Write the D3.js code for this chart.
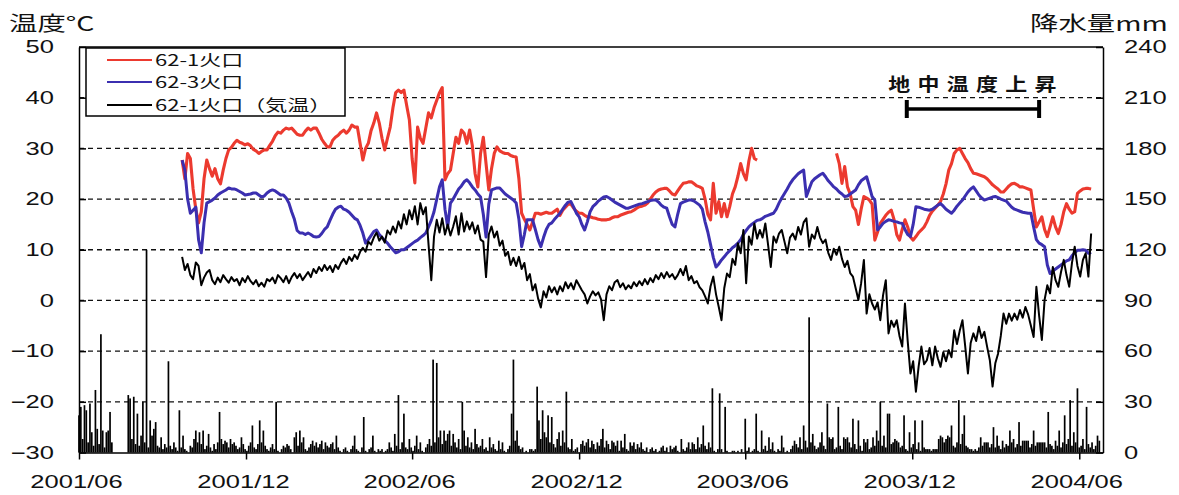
<!DOCTYPE html>
<html>
<head>
<meta charset="utf-8">
<script src="https://cdn.jsdelivr.net/npm/d3@7"></script>
<style>
  html, body { margin: 0; padding: 0; background: #fff; }
  svg { display: block; }
  text { font-family: "Noto Sans CJK JP", "Noto Sans", sans-serif; fill: #111; }
</style>
</head>
<body>
<svg id="chart" width="1179" height="495"></svg>
<script>
// ---- Data -------------------------------------------------------------
// Temperature series: one reading every 3 days from tempStart (°C)
const tempStart = "2001-09-22";
const tempStepDays = 3;

// 62-1 crater ground temperature (null = no record)
const crater621 = [
  27.7,24.0,29.0,28.0,22.0,18.0,15.3,17.5,24.0,27.7,
  26.0,24.5,26.0,24.0,23.0,25.7,28.0,29.7,30.2,31.0,
  31.6,31.2,31.0,30.7,30.9,30.5,29.8,29.5,29.0,29.4,
  29.7,29.7,30.6,31.4,32.5,33.2,33.0,33.6,34.0,33.8,
  34.0,33.4,32.8,32.6,32.6,33.4,34.0,33.6,34.0,34.0,
  33.0,31.8,31.0,30.3,30.3,31.6,32.2,32.6,33.2,33.6,
  33.0,33.6,34.6,34.2,34.2,31.0,27.7,30.0,31.0,33.5,
  35.0,37.0,35.0,32.0,29.7,32.0,34.2,38.0,41.0,41.5,
  41.0,41.5,38.5,35.6,28.0,23.2,34.2,32.0,31.0,34.0,
  37.0,36.0,38.0,39.5,41.0,42.0,23.8,25.0,25.7,29.0,
  32.2,31.0,33.6,33.0,31.0,33.6,30.5,25.0,22.4,29.0,
  32.2,27.0,21.8,26.0,29.0,30.3,29.5,29.2,29.0,29.0,
  28.6,28.4,28.3,24.0,17.2,16.0,15.0,13.9,15.5,17.2,
  17.2,17.0,17.2,17.4,17.2,17.2,17.6,18.0,16.8,17.8,
  18.4,19.0,19.0,18.2,17.6,17.2,17.2,16.8,16.5,16.5,
  16.3,16.2,16.0,15.9,15.9,15.9,16.0,16.3,16.5,16.5,
  16.8,17.0,17.2,17.4,17.5,17.8,18.2,18.5,18.6,18.8,
  19.2,20.0,20.8,21.4,21.8,22.0,22.1,22.1,21.6,21.0,
  20.8,21.6,22.4,23.1,23.2,23.4,23.4,23.0,22.6,22.4,
  22.1,20.0,17.0,15.9,23.1,17.2,19.5,16.5,19.1,16.5,
  18.5,21.0,22.4,24.5,27.0,25.0,23.8,27.5,30.0,28.0,
  27.7,null,null,null,null,null,null,null,null,null,
  null,null,null,null,null,null,null,null,null,null,
  null,null,null,null,null,null,null,null,null,29.0,
  27.0,23.1,26.4,22.4,21.0,18.5,17.8,15.0,18.0,20.5,
  20.2,19.8,19.0,11.9,13.5,15.2,16.0,16.8,17.4,17.8,
  16.0,13.0,11.9,14.0,15.9,14.5,12.5,11.9,12.6,13.4,
  13.9,14.5,15.5,16.8,17.6,18.2,18.8,19.5,21.0,23.0,
  25.7,27.0,29.0,29.7,30.0,29.0,28.0,27.2,26.0,25.1,
  25.0,24.8,24.6,24.4,24.0,23.4,22.8,22.4,22.0,21.4,
  21.4,22.0,22.6,23.0,23.1,22.8,22.4,22.4,22.2,22.0,
  21.8,18.0,14.5,15.5,16.5,14.0,12.6,14.5,16.5,14.5,
  13.2,15.0,17.5,19.1,18.0,17.2,17.5,21.1,21.6,22.0,
  22.1,22.1,22.0
];

// 62-3 crater ground temperature
const crater623 = [
  27.7,25.7,20.0,17.2,17.8,18.4,12.0,9.4,15.3,19.2,
  19.5,19.8,20.2,20.8,21.2,21.5,21.8,22.2,22.0,22.0,
  21.8,21.5,21.2,20.8,20.9,21.0,21.2,21.2,20.8,20.4,
  20.6,21.2,21.6,21.8,21.6,21.2,20.8,20.8,20.2,19.2,
  17.5,16.0,13.8,13.3,13.3,13.0,13.3,13.0,12.6,12.5,
  12.6,13.2,14.0,14.5,15.8,17.0,18.0,18.4,18.6,18.0,
  17.8,17.4,16.8,16.2,15.9,14.8,13.3,11.3,12.0,12.8,
  13.6,13.9,13.0,12.4,11.8,11.3,10.6,10.0,9.4,9.6,
  10.0,10.0,10.4,10.8,11.2,11.6,11.9,12.4,12.8,13.3,
  14.5,15.8,17.5,20.0,22.4,23.8,18.0,14.5,19.2,20.0,
  21.0,22.0,22.6,23.4,23.8,23.2,22.4,21.8,21.0,20.4,
  17.0,12.5,19.0,21.8,22.0,22.2,22.2,21.6,21.0,20.6,
  20.2,19.8,19.2,16.0,10.6,13.0,15.9,15.9,15.9,14.0,
  12.0,10.6,12.4,14.0,15.0,15.3,16.0,16.6,17.2,18.0,
  18.8,19.4,19.5,18.4,17.2,16.5,15.0,13.9,15.5,17.5,
  18.5,19.0,19.6,20.0,20.4,20.5,20.2,19.8,19.4,19.1,
  18.8,18.5,18.2,18.2,18.4,18.6,18.8,19.0,19.1,19.3,
  19.5,19.7,19.8,19.8,19.4,18.8,18.4,18.2,16.5,15.0,
  14.5,17.0,19.1,19.4,19.6,19.8,19.8,19.6,19.2,18.8,
  18.0,15.5,13.5,11.0,8.5,6.6,7.2,8.0,8.6,9.3,
  9.8,10.4,10.8,11.3,12.0,13.0,13.8,14.5,15.0,15.4,
  15.8,15.9,16.2,16.6,16.8,17.0,17.2,18.0,19.2,20.2,
  21.1,22.0,23.0,23.8,24.4,25.0,25.4,25.7,20.5,22.0,
  23.4,24.0,24.4,24.8,25.1,24.4,23.6,23.0,22.4,22.0,
  21.4,21.0,20.5,20.6,21.0,21.4,21.8,22.8,23.6,24.0,
  24.4,22.5,20.5,19.8,13.9,14.5,15.2,15.6,15.9,15.8,
  15.6,15.5,15.3,15.2,14.0,13.0,12.6,15.0,18.5,18.4,
  18.2,18.0,17.9,17.8,18.0,18.4,18.8,19.1,18.6,18.0,
  17.6,17.2,17.8,18.6,19.2,19.8,20.6,21.4,22.0,22.4,
  21.6,20.8,20.2,19.8,20.0,20.2,20.4,20.5,20.3,20.0,
  19.8,19.6,19.0,18.4,18.0,17.8,17.6,17.4,17.3,17.2,
  17.2,14.5,12.0,11.3,11.0,10.6,7.0,5.3,5.8,6.2,
  6.6,7.0,7.4,7.8,8.0,8.8,9.4,9.9,9.9,10.0,
  9.9,9.3,9.5
];

// 62-1 crater air temperature
const airTemp621 = [
  8.6,6.0,7.2,5.0,4.2,7.5,6.8,3.0,4.5,5.5,
  6.0,4.0,3.2,4.5,3.6,5.0,4.2,3.5,4.6,3.8,
  4.2,3.0,4.4,3.6,4.8,3.8,3.2,4.0,2.8,3.5,
  2.7,4.2,3.8,4.5,3.4,5.0,4.4,3.6,4.8,3.4,
  4.6,5.4,4.4,5.2,4.0,4.8,5.6,4.6,6.2,5.4,
  6.6,5.8,7.0,6.0,6.8,5.6,7.0,6.2,7.4,8.2,
  7.2,8.6,7.8,9.0,8.2,9.6,10.4,9.6,11.6,11.0,
  12.4,13.4,11.8,12.6,11.4,13.8,13.0,14.6,13.4,15.6,
  14.2,17.0,15.0,17.8,16.0,18.6,15.0,19.2,17.0,18.4,
  11.0,4.0,12.6,15.9,13.4,16.2,13.0,15.0,12.8,14.6,
  16.6,13.0,17.2,13.6,15.6,14.0,15.4,13.2,14.8,12.0,
  11.6,4.6,13.0,14.6,12.4,13.6,10.8,11.8,8.8,9.6,
  7.0,8.4,6.8,8.6,6.2,7.4,4.0,5.2,2.0,3.2,
  0.4,-1.4,1.8,0.6,2.8,1.6,2.6,1.2,2.8,1.8,
  3.6,2.4,3.4,2.2,4.0,3.0,2.0,1.2,-0.6,0.8,
  1.8,1.0,1.6,0.2,-3.9,1.2,2.8,2.0,3.6,4.0,
  2.6,3.4,2.2,3.0,2.4,3.6,2.8,3.8,3.0,4.2,
  3.2,4.4,3.6,5.0,4.2,5.4,4.4,5.6,4.6,5.2,
  4.2,5.0,6.2,5.0,6.8,4.0,4.8,3.4,3.8,2.6,
  2.0,0.8,-0.6,2.8,4.7,1.2,-1.3,-3.9,2.4,5.3,
  4.6,8.2,7.0,11.3,9.3,13.9,3.4,12.6,11.0,15.2,
  12.2,13.9,12.4,15.2,11.0,6.6,12.6,11.4,13.2,13.9,
  11.6,9.3,12.4,13.2,12.0,14.5,13.0,15.4,16.2,10.6,
  13.0,12.2,14.5,12.4,11.3,12.0,9.4,8.0,10.2,9.0,
  10.6,8.2,6.6,7.8,5.4,4.7,2.4,0.1,3.4,8.0,
  -2.6,1.2,-0.6,-1.8,-0.4,-3.9,1.0,4.0,-6.5,-4.0,
  -5.2,-3.9,-7.0,-9.1,-0.6,-8.0,-14.4,-12.0,-18.0,-13.0,
  -9.1,-12.6,-11.8,-9.4,-12.8,-9.1,-11.4,-13.1,-10.2,-12.0,
  -9.8,-11.2,-5.9,-8.6,-6.0,-3.9,-9.0,-14.4,-8.4,-6.5,
  -8.0,-5.2,-7.4,-6.2,-9.1,-11.8,-17.0,-12.4,-10.5,-7.0,
  -2.6,-4.6,-2.6,-4.0,-2.6,-3.8,-1.9,-3.4,-1.3,-2.8,
  -5.0,-7.2,2.7,-3.0,-7.8,0.1,3.0,1.4,6.6,4.0,
  2.7,5.6,8.0,5.0,2.7,7.4,10.6,6.8,4.7,8.0,
  9.3,4.7,13.2
];

// Precipitation: 2-day totals from rainStart (mm)
const rainStart = "2001-06-01";
const rainStepDays = 2;
const rainfall = [
  22,27,8,28,25,6,29,12,4,37,14,5,70,13,3,12,13,24,6,0,
  0,0,0,0,0,0,0,34,32,8,33,5,23,4,10,30,6,120,3,19,
  10,14,18,4,3,9,2,5,3,54,4,2,6,3,1,25,3,10,2,1,
  0,4,3,8,13,6,12,5,13,2,4,11,3,1,5,2,6,24,8,5,
  7,6,3,8,5,6,4,2,3,9,5,2,1,4,6,16,3,2,5,19,
  6,13,4,2,1,3,5,2,30,1,0,2,4,3,5,4,2,0,9,12,
  4,13,6,9,2,1,3,5,7,4,6,3,5,7,2,6,4,3,5,6,
  2,10,3,1,0,2,3,1,0,2,4,10,2,1,0,3,21,1,0,2,
  3,10,1,0,2,1,2,0,1,2,6,3,1,11,4,34,2,6,23,3,
  2,8,3,1,4,10,2,6,1,0,3,5,8,4,55,6,53,9,13,5,
  13,7,11,13,4,11,6,3,8,2,30,13,4,9,3,6,2,14,5,3,
  4,8,2,3,1,9,3,5,2,1,7,2,6,1,0,2,4,23,55,7,
  13,4,2,3,0,1,0,2,2,1,2,39,19,8,25,12,9,22,6,21,
  5,3,8,12,4,13,6,36,3,2,8,1,2,3,0,5,7,4,6,8,
  3,7,5,2,6,4,8,14,3,7,5,2,7,6,4,7,1,7,3,11,
  2,1,6,4,6,2,5,3,6,2,1,3,0,2,3,1,2,0,1,3,
  4,1,3,0,4,2,3,4,1,0,8,2,1,3,6,2,6,5,2,9,
  3,5,16,4,2,6,3,38,1,0,2,35,2,0,27,1,0,0,1,1,
  0,1,0,2,0,20,1,3,0,1,2,23,1,0,13,2,4,1,9,2,
  6,1,0,2,1,10,3,0,1,0,2,4,7,5,3,9,2,16,7,3,
  80,6,11,4,2,3,6,12,4,2,29,9,8,9,2,3,27,4,2,9,
  8,9,6,3,20,5,2,19,4,1,8,6,8,2,3,9,4,13,7,30,
  4,10,3,23,23,5,6,8,7,6,3,4,22,2,1,12,3,5,19,2,
  6,1,19,3,2,2,2,1,2,2,2,8,10,9,6,8,10,9,16,4,
  3,6,31,5,11,22,4,3,2,2,1,2,1,3,9,4,6,6,6,3,
  5,15,3,10,4,2,7,3,5,4,13,6,8,3,5,18,4,7,7,7,
  7,3,5,13,4,6,6,6,6,6,3,24,5,4,2,7,4,13,3,6,
  22,5,8,31,4,12,6,38,3,4,8,2,27,5,3,6,2,4,10,7
];

// Axis ticks
const xTickLabels = ["2001/06","2001/12","2002/06","2002/12","2003/06","2003/12","2004/06"];
const tempTicks = [50,40,30,20,10,0,-10,-20,-30];
const rainTicks = [0,30,60,90,120,150,180,210,240];
const gridTemps = [40,30,20,10,0,-10,-20];

// Legend entries and annotation
const seriesNames = ["62-1火口","62-3火口","62-1火口（気温）"];
const seriesColors = ["#ec3a2f","#3b2fb0","#000000"];
const riseLabel = "地中温度上昇";
const risePeriod = ["2003-11-25","2004-04-18"];

// ---- Scales ------------------------------------------------------------
const parse = d3.utcParse("%Y-%m-%d");
const parseMonth = d3.utcParse("%Y/%m");
const plot = { left: 79, right: 1103, top: 47, bottom: 452.5 };
const sx = 1.42;   // horizontal stretch of the lettering
const digitFont = '"Liberation Sans", Arial, sans-serif';

const x = d3.scaleUtc()
  .domain([parse("2001-06-01"), parse("2004-06-27")])
  .range([plot.left, plot.right]);
const yT = d3.scaleLinear().domain([-30, 50]).range([plot.bottom, plot.top]);
const yR = d3.scaleLinear().domain([0, 240]).range([plot.bottom, plot.top]);

const svg = d3.select("#chart");

// ---- Gridlines ---------------------------------------------------------
svg.append("g").selectAll("line").data(gridTemps).join("line")
  .attr("x1", plot.left).attr("x2", plot.right)
  .attr("y1", d => yT(d)).attr("y2", d => yT(d))
  .attr("stroke", "#111").attr("stroke-width", 1.3)
  .attr("stroke-dasharray", "5,4");

// ---- Precipitation bars ------------------------------------------------
const r0 = parse(rainStart);
svg.append("g").selectAll("rect").data(rainfall).join("rect")
  .attr("x", (d, i) => x(d3.utcDay.offset(r0, i * rainStepDays)) - 0.85)
  .attr("width", 1.7)
  .attr("y", d => yR(d))
  .attr("height", d => plot.bottom - yR(d))
  .attr("fill", "#000");

// ---- Temperature lines -------------------------------------------------
const t0 = parse(tempStart);
const tDate = i => d3.utcDay.offset(t0, i * tempStepDays);
const line = d3.line()
  .defined(d => d != null)
  .x((d, i) => x(tDate(i)))
  .y(d => yT(d));

[[crater621, 3.1], [crater623, 3.0], [airTemp621, 2.0]].forEach(([vals, w], k) => {
  svg.append("path")
    .datum(vals)
    .attr("d", line)
    .attr("fill", "none")
    .attr("stroke", seriesColors[k])
    .attr("stroke-width", w)
    .attr("stroke-linejoin", "round");
});

// ---- Axes --------------------------------------------------------------
function styleAxis(g) {
  g.selectAll("path.domain").attr("stroke", "#000").attr("stroke-width", 1.5);
  g.selectAll(".tick line").attr("stroke", "#000").attr("stroke-width", 1.5);
  g.selectAll("text")
    .style("font-family", digitFont)
    .style("font-size", "18px").attr("fill", "#111");
}

const leftAxis = svg.append("g")
  .attr("transform", `translate(${plot.left},0)`)
  .call(d3.axisLeft(yT).tickValues(tempTicks).tickSizeInner(-7).tickSizeOuter(0));
styleAxis(leftAxis);
leftAxis.selectAll("text").attr("x", -25 / sx).attr("transform", `scale(${sx},1)`);

const rightAxis = svg.append("g")
  .attr("transform", `translate(${plot.right},0)`)
  .call(d3.axisRight(yR).tickValues(rainTicks).tickSizeInner(-7).tickSizeOuter(0));
styleAxis(rightAxis);
rightAxis.selectAll("text").attr("x", 21 / sx).attr("transform", `scale(${sx},1)`);

const bottomAxis = svg.append("g")
  .attr("transform", `translate(0,${plot.bottom})`)
  .call(d3.axisBottom(x)
    .tickValues(xTickLabels.map(parseMonth))
    .tickFormat(d3.utcFormat("%Y/%m"))
    .tickSizeInner(7).tickSizeOuter(0).tickPadding(16));
styleAxis(bottomAxis);
bottomAxis.selectAll("text").attr("x", -3 / sx).attr("transform", `scale(${sx},1)`);

// Plot frame top edge
svg.append("line")
  .attr("x1", plot.left).attr("x2", plot.right)
  .attr("y1", plot.top).attr("y2", plot.top)
  .attr("stroke", "#000").attr("stroke-width", 1.5);

// ---- Axis titles -------------------------------------------------------
svg.append("text")
  .attr("transform", `translate(9,31) scale(${sx},1)`)
  .style("font-size", "20px")
  .text("温度°C");
svg.append("text")
  .attr("transform", `translate(1030,31) scale(${sx},1)`)
  .style("font-size", "20px")
  .text("降水量mm");

// ---- Legend ------------------------------------------------------------
const legend = svg.append("g");
legend.append("rect")
  .attr("x", 86).attr("y", 48).attr("width", 259).attr("height", 68)
  .attr("fill", "#fff").attr("stroke", "#000").attr("stroke-width", 1.5);
const legendY = [60, 82, 105];
seriesNames.forEach((name, k) => {
  legend.append("line")
    .attr("x1", 107).attr("x2", 152)
    .attr("y1", legendY[k]).attr("y2", legendY[k])
    .attr("stroke", seriesColors[k]).attr("stroke-width", 2);
  legend.append("text")
    .attr("transform", `translate(155,${legendY[k] + 6}) scale(${sx},1)`)
    .style("font-size", "15.5px")
    .text(name);
});

// ---- Annotation: period of ground temperature rise ----------------------
const ax1 = x(parse(risePeriod[0])), ax2 = x(parse(risePeriod[1]));
const ann = svg.append("g");
ann.append("text")
  .attr("transform", `translate(${(ax1 + ax2) / 2 + 3},91) scale(1.22,1)`)
  .attr("text-anchor", "middle")
  .style("font-size", "18px").style("font-weight", "bold")
  .style("letter-spacing", "6px")
  .text(riseLabel);
ann.append("line")
  .attr("x1", ax1).attr("x2", ax2).attr("y1", 109).attr("y2", 109)
  .attr("stroke", "#000").attr("stroke-width", 3.5);
[ax1, ax2].forEach(px => {
  ann.append("line")
    .attr("x1", px).attr("x2", px).attr("y1", 100).attr("y2", 118)
    .attr("stroke", "#000").attr("stroke-width", 4);
});
</script>
</body>
</html>
